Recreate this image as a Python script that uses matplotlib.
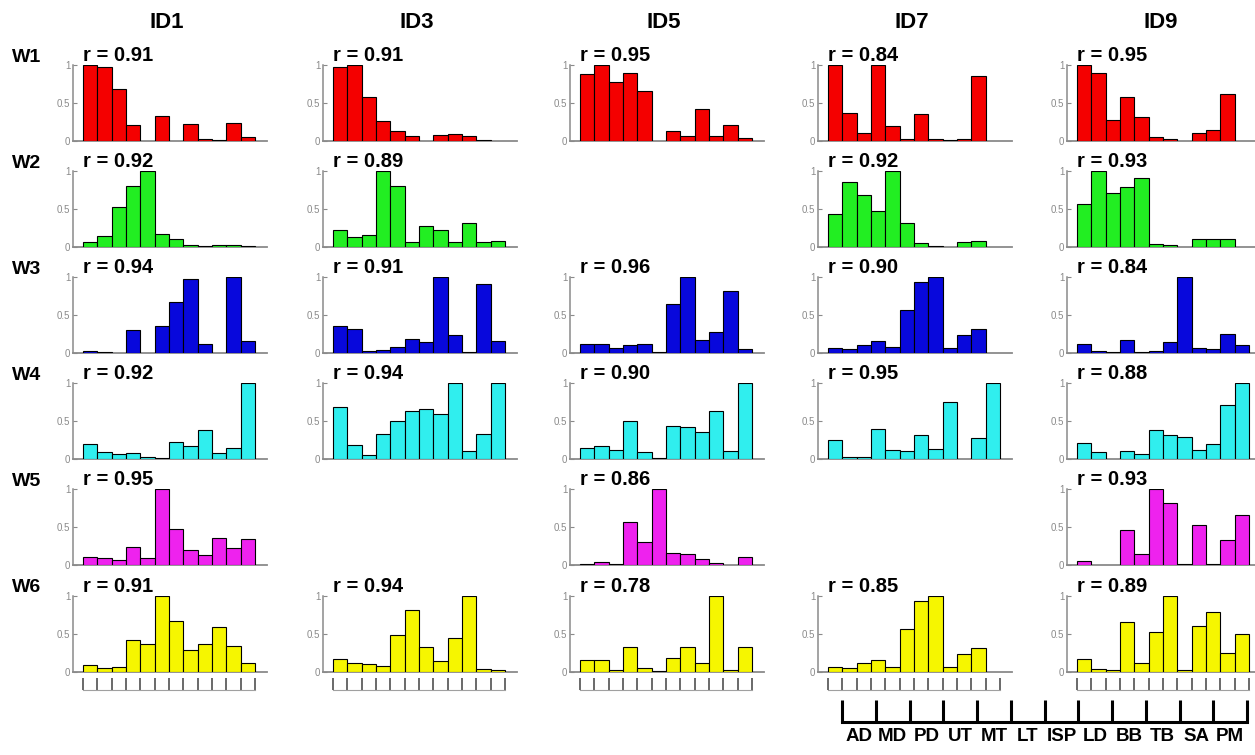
import matplotlib
matplotlib.use("Agg")
import matplotlib.pyplot as plt
import numpy as np

plt.rcParams['font.family'] = ['Liberation Sans', 'DejaVu Sans']

muscles = ["AD", "MD", "PD", "UT", "MT", "LT", "ISP", "LD", "BB", "TB", "SA", "PM"]
subjects = ["ID1", "ID3", "ID5", "ID7", "ID9"]
synergies = ["W1", "W2", "W3", "W4", "W5", "W6"]

# ---- W1 ----
w1_id1 = [1.00, 0.98, 0.69, 0.21, 0.00, 0.33, 0.00, 0.22, 0.03, 0.01, 0.24, 0.05]
w1_id3 = [0.98, 1.00, 0.58, 0.26, 0.13, 0.07, 0.00, 0.08, 0.09, 0.06, 0.01, 0.00]
w1_id5 = [0.88, 1.00, 0.77, 0.89, 0.66, 0.00, 0.13, 0.07, 0.42, 0.06, 0.21, 0.04]
w1_id7 = [1.00, 0.37, 0.10, 1.00, 0.20, 0.02, 0.35, 0.02, 0.01, 0.02, 0.86, 0.00]
w1_id9 = [1.00, 0.90, 0.27, 0.58, 0.32, 0.05, 0.03, 0.00, 0.10, 0.14, 0.62, 0.00]
# ---- W2 ----
w2_id1 = [0.06, 0.15, 0.52, 0.80, 1.00, 0.17, 0.10, 0.03, 0.01, 0.02, 0.02, 0.01]
w2_id3 = [0.22, 0.13, 0.16, 1.00, 0.80, 0.06, 0.27, 0.23, 0.06, 0.32, 0.06, 0.08]
w2_id5 = None
w2_id7 = [0.43, 0.85, 0.69, 0.48, 1.00, 0.31, 0.05, 0.01, 0.00, 0.06, 0.08, 0.00]
w2_id9 = [0.56, 1.00, 0.71, 0.79, 0.91, 0.04, 0.03, 0.00, 0.11, 0.11, 0.11, 0.00]
# ---- W3 ----
w3_id1 = [0.03, 0.01, 0.00, 0.30, 0.00, 0.35, 0.67, 0.97, 0.12, 0.00, 1.00, 0.16]
w3_id3 = [0.35, 0.32, 0.03, 0.04, 0.08, 0.18, 0.15, 1.00, 0.24, 0.01, 0.91, 0.16]
w3_id5 = [0.12, 0.12, 0.07, 0.11, 0.12, 0.01, 0.64, 1.00, 0.17, 0.27, 0.82, 0.05]
w3_id7 = [0.07, 0.05, 0.11, 0.16, 0.08, 0.57, 0.94, 1.00, 0.07, 0.24, 0.32, 0.00]
w3_id9 = [0.12, 0.03, 0.01, 0.17, 0.01, 0.03, 0.14, 1.00, 0.06, 0.05, 0.25, 0.10]
# ---- W4 ----
w4_id1 = [0.20, 0.09, 0.06, 0.08, 0.03, 0.01, 0.22, 0.17, 0.38, 0.08, 0.14, 1.00]
w4_id3 = [0.68, 0.19, 0.05, 0.33, 0.50, 0.63, 0.66, 0.59, 1.00, 0.11, 0.33, 1.00]
w4_id5 = [0.15, 0.17, 0.12, 0.50, 0.09, 0.01, 0.43, 0.42, 0.36, 0.63, 0.11, 1.00]
w4_id7 = [0.25, 0.03, 0.03, 0.40, 0.12, 0.11, 0.31, 0.13, 0.75, 0.00, 0.27, 1.00]
w4_id9 = [0.21, 0.09, 0.00, 0.10, 0.06, 0.38, 0.31, 0.29, 0.12, 0.20, 0.71, 1.00]
# ---- W5 ----
w5_id1 = [0.11, 0.09, 0.07, 0.24, 0.09, 1.00, 0.48, 0.20, 0.13, 0.35, 0.22, 0.34]
w5_id3 = None
w5_id5 = [0.01, 0.04, 0.01, 0.56, 0.30, 1.00, 0.16, 0.14, 0.08, 0.02, 0.00, 0.10]
w5_id7 = None
w5_id9 = [0.05, 0.00, 0.00, 0.46, 0.15, 1.00, 0.81, 0.01, 0.52, 0.01, 0.33, 0.66]
# ---- W6 ----
w6_id1 = [0.09, 0.05, 0.07, 0.42, 0.37, 1.00, 0.67, 0.29, 0.37, 0.59, 0.34, 0.12]
w6_id3 = [0.17, 0.12, 0.10, 0.08, 0.49, 0.82, 0.33, 0.15, 0.45, 1.00, 0.04, 0.03]
w6_id5 = [0.16, 0.16, 0.03, 0.33, 0.05, 0.01, 0.19, 0.33, 0.12, 1.00, 0.03, 0.33]
w6_id7 = [0.07, 0.05, 0.12, 0.16, 0.07, 0.56, 0.93, 1.00, 0.07, 0.24, 0.31, 0.00]
w6_id9 = [0.17, 0.04, 0.03, 0.66, 0.12, 0.52, 1.00, 0.03, 0.61, 0.79, 0.25, 0.50]

# correlation coefficients (None = panel absent)
r_w1 = [0.91, 0.91, 0.95, 0.84, 0.95]
r_w2 = [0.92, 0.89, None, 0.92, 0.93]
r_w3 = [0.94, 0.91, 0.96, 0.90, 0.84]
r_w4 = [0.92, 0.94, 0.90, 0.95, 0.88]
r_w5 = [0.95, None, 0.86, None, 0.93]
r_w6 = [0.91, 0.94, 0.78, 0.85, 0.89]

synergy_colors = ["#f40000", "#22ee22", "#0808dc", "#30eeee", "#ee22ee", "#f6f600"]

rows = [
    [w1_id1, w1_id3, w1_id5, w1_id7, w1_id9],
    [w2_id1, w2_id3, w2_id5, w2_id7, w2_id9],
    [w3_id1, w3_id3, w3_id5, w3_id7, w3_id9],
    [w4_id1, w4_id3, w4_id5, w4_id7, w4_id9],
    [w5_id1, w5_id3, w5_id5, w5_id7, w5_id9],
    [w6_id1, w6_id3, w6_id5, w6_id7, w6_id9],
]
r_rows = [r_w1, r_w2, r_w3, r_w4, r_w5, r_w6]

# ---- layout (pixels) ----
W, H = 1255, 755
fig = plt.figure(figsize=(W / 100, H / 100), dpi=100)
col_left = [73, 323, 570, 818, 1067]
row_top = [65, 171, 277, 383, 489, 596]
ax_w, ax_h = 194, 76
xlim = (-0.2, 13.34)
axis_gray = "#8a8a8a"

x = np.arange(1, len(muscles) + 1)


def fig_rect(left, top, width, height):
    return [left / W, 1 - (top + height) / H, width / W, height / H]


for ri, (row_vals, row_r) in enumerate(zip(rows, r_rows)):
    # row label
    fig.text(12 / W, 1 - (row_top[ri] - 8) / H, synergies[ri], ha="left", va="center",
             fontsize=14, fontweight="bold")
    for ci, vals in enumerate(row_vals):
        if vals is None:
            continue
        ax = fig.add_axes(fig_rect(col_left[ci], row_top[ri], ax_w, ax_h))
        ecs = ["black" if v > 0 else "none" for v in vals]
        ax.bar(x, vals, width=1.0, color=synergy_colors[ri], edgecolor=ecs,
               linewidth=0.8, zorder=3)
        ax.set_xlim(*xlim)
        ax.set_ylim(0, 1)
        for s in ("top", "right"):
            ax.spines[s].set_visible(False)
        ax.spines["left"].set_color(axis_gray)
        ax.spines["bottom"].set_color(axis_gray)
        ax.spines["left"].set_linewidth(1.1)
        ax.spines["bottom"].set_linewidth(1.3)
        ax.set_xticks([])
        ax.set_yticks([0, 0.5, 1])
        ax.set_yticklabels(["0", "0.5", "1"])
        ax.tick_params(axis="y", direction="in", length=3, width=0.8,
                       colors=axis_gray, labelsize=7, pad=2)
        ax.patch.set_alpha(0)
        ax.annotate(f"r = {row_r[ci]:.2f}", xy=(0.5, 1.0),
                    xycoords=("data", "axes fraction"),
                    xytext=(0, 6.5), textcoords="offset points",
                    ha="left", va="center", fontsize=14.5, fontweight="bold",
                    annotation_clip=False)

        if ri == len(rows) - 1:
            tax = fig.add_axes(fig_rect(col_left[ci], 678, ax_w, 12))
            tax.set_xlim(*xlim)
            tax.set_ylim(0, 1)
            for s in ("top", "right", "left"):
                tax.spines[s].set_visible(False)
            tax.spines["bottom"].set_bounds(0.5, len(muscles) + 0.5)
            tax.spines["bottom"].set_color("#a0a0a0")
            tax.set_yticks([])
            tax.set_xticks(np.arange(0.5, len(muscles) + 1))
            tax.set_xticklabels([])
            tax.tick_params(axis="x", direction="in", length=9, width=1.2, color="#505050")
            tax.patch.set_alpha(0)

# column titles
for ci, name in enumerate(subjects):
    fig.text((col_left[ci] + ax_w / 2 - 3) / W, 1 - 22 / H, name, ha="center", va="center",
             fontsize=16, fontweight="bold")

# muscle legend bracket
bax = fig.add_axes(fig_rect(842, 700, 405, 22))
bax.set_xlim(0, len(muscles))
bax.set_ylim(0, 1)
for s in ("top", "right", "left"):
    bax.spines[s].set_visible(False)
bax.spines["bottom"].set_linewidth(2.2)
bax.spines["bottom"].set_color("black")
bax.set_yticks([])
bax.set_xticks(np.arange(0, len(muscles) + 1))
bax.set_xticklabels([])
bax.tick_params(axis="x", which="major", direction="in", length=16, width=2.2, color="black")
bax.set_xticks(np.arange(len(muscles)) + 0.5, minor=True)
bax.set_xticklabels(muscles, minor=True, fontsize=13.5, fontweight="bold")
bax.tick_params(axis="x", which="minor", length=0, pad=4)
bax.patch.set_alpha(0)
for t in bax.get_xticklines():
    t.set_clip_on(False)

fig.savefig("out.png", dpi=100)
